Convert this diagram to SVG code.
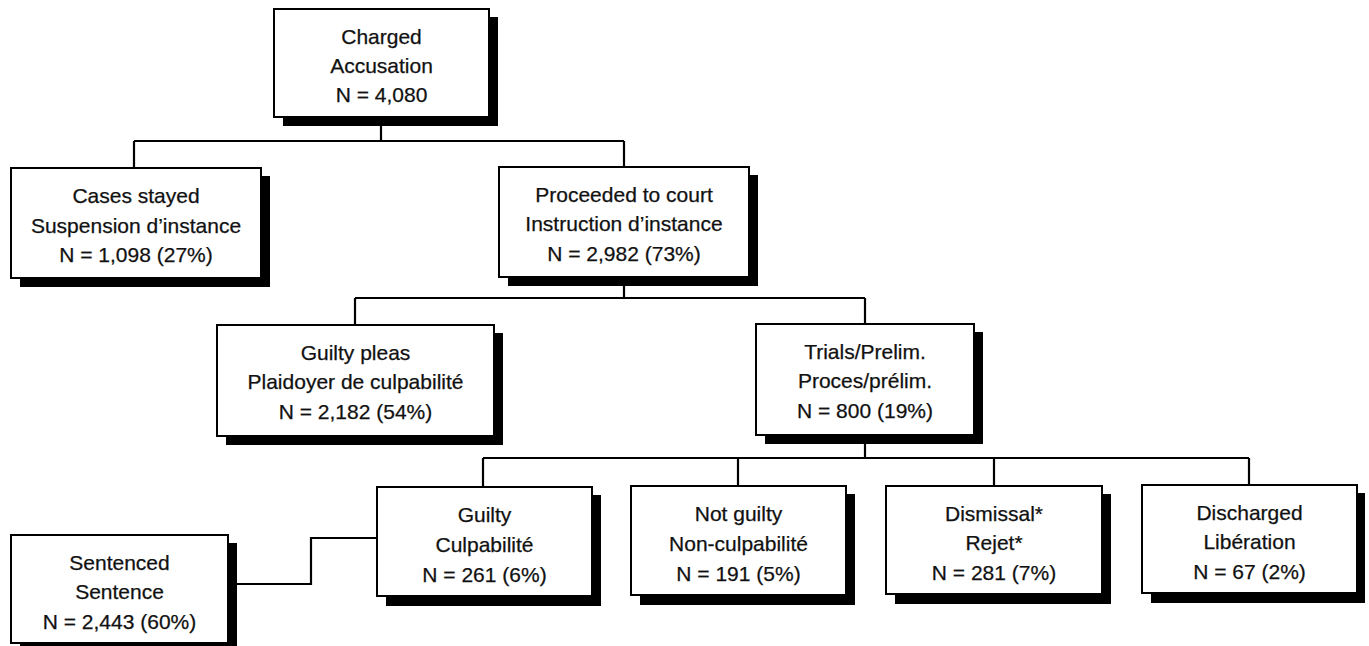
<svg xmlns="http://www.w3.org/2000/svg" width="1369" height="646" viewBox="0 0 1369 646">
<style>
.shadow{fill:#000}
.box{fill:#fff;stroke:#000;stroke-width:2}
.conn{fill:none;stroke:#000;stroke-width:2.2}
text{font-family:"Liberation Sans",Arial,Helvetica,sans-serif;font-size:21px;fill:#111;stroke:#111;stroke-width:0.25;text-anchor:middle}
</style>
<rect width="1369" height="646" fill="#fff"/>
<g id="connectors">
<path class="conn" d="M381 126V141M134 141H624M134 141V168M624 141V167"/>
<path class="conn" d="M624 285V298M355 298H865M355 298V325M865 298V324"/>
<path class="conn" d="M865 444V458M483 458H1249M483 458V487M738 458V486M994 458V486M1249 458V485"/>
<path class="conn" d="M228 584H311V538H377"/>
</g>
<g id="charged">
<rect class="shadow" x="283" y="17" width="215" height="109"/>
<rect class="box" x="274" y="9" width="215" height="108"/>
<text x="381.5" y="44">Charged</text>
<text x="381.5" y="73">Accusation</text>
<text x="381.5" y="102">N = 4,080</text>
</g>
<g id="cases-stayed">
<rect class="shadow" x="20" y="176" width="250" height="111"/>
<rect class="box" x="11" y="168" width="250" height="110"/>
<text x="136" y="203">Cases stayed</text>
<text x="136" y="233">Suspension d’instance</text>
<text x="136" y="262">N = 1,098 (27%)</text>
</g>
<g id="proceeded">
<rect class="shadow" x="508" y="175" width="250" height="111"/>
<rect class="box" x="499" y="167" width="250" height="110"/>
<text x="624" y="202">Proceeded to court</text>
<text x="624" y="231">Instruction d’instance</text>
<text x="624" y="261">N = 2,982 (73%)</text>
</g>
<g id="guilty-pleas">
<rect class="shadow" x="226" y="333" width="277" height="112"/>
<rect class="box" x="217" y="325" width="277" height="111"/>
<text x="355.5" y="360">Guilty pleas</text>
<text x="355.5" y="389">Plaidoyer de culpabilité</text>
<text x="355.5" y="419">N = 2,182 (54%)</text>
</g>
<g id="trials">
<rect class="shadow" x="765" y="332" width="218" height="112"/>
<rect class="box" x="756" y="324" width="218" height="111"/>
<text x="865" y="359">Trials/Prelim.</text>
<text x="865" y="388">Proces/prélim.</text>
<text x="865" y="418">N = 800 (19%)</text>
</g>
<g id="sentenced">
<rect class="shadow" x="20" y="543" width="217" height="109"/>
<rect class="box" x="11" y="535" width="217" height="108"/>
<text x="119.5" y="570">Sentenced</text>
<text x="119.5" y="599">Sentence</text>
<text x="119.5" y="629">N = 2,443 (60%)</text>
</g>
<g id="guilty">
<rect class="shadow" x="386" y="495" width="215" height="111"/>
<rect class="box" x="377" y="487" width="215" height="109"/>
<text x="484.5" y="522">Guilty</text>
<text x="484.5" y="552">Culpabilité</text>
<text x="484.5" y="582">N = 261 (6%)</text>
</g>
<g id="not-guilty">
<rect class="shadow" x="640" y="494" width="215" height="111"/>
<rect class="box" x="631" y="486" width="215" height="109"/>
<text x="738.5" y="521">Not guilty</text>
<text x="738.5" y="551">Non-culpabilité</text>
<text x="738.5" y="581">N = 191 (5%)</text>
</g>
<g id="dismissal">
<rect class="shadow" x="895" y="494" width="216" height="110"/>
<rect class="box" x="886" y="486" width="216" height="108"/>
<text x="994" y="521">Dismissal*</text>
<text x="994" y="550">Rejet*</text>
<text x="994" y="580">N = 281 (7%)</text>
</g>
<g id="discharged">
<rect class="shadow" x="1151" y="493" width="214" height="110"/>
<rect class="box" x="1142" y="485" width="215" height="108"/>
<text x="1249.5" y="520">Discharged</text>
<text x="1249.5" y="549">Libération</text>
<text x="1249.5" y="579">N = 67 (2%)</text>
</g>
</svg>
